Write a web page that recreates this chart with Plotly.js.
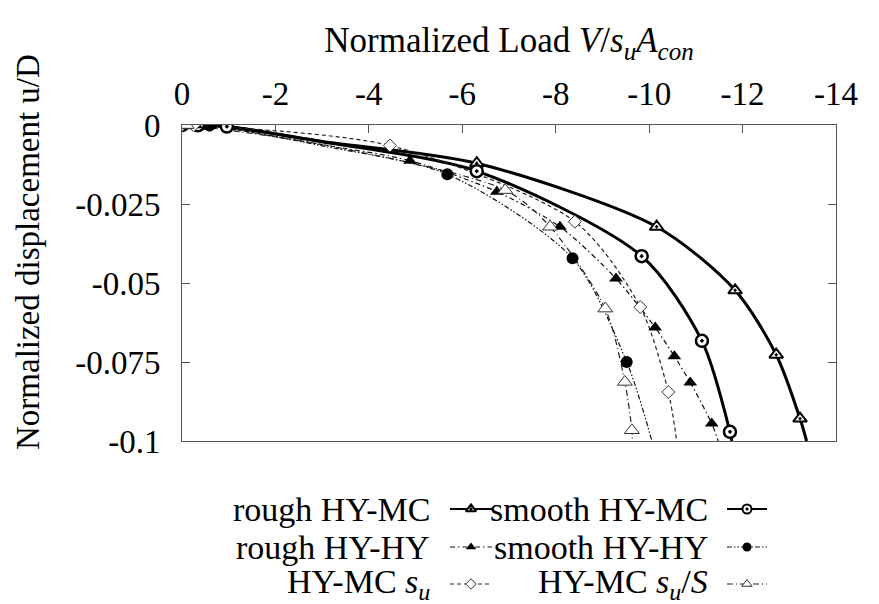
<!DOCTYPE html>
<html><head><meta charset="utf-8">
<script src="https://cdn.plot.ly/plotly-3.0.1.min.js"></script>
<style>
html,body{margin:0;padding:0;background:#fff}
#chart{width:879px;height:604px}
</style>
</head><body><div id="chart"></div>
<script>
var SERIF = 'Liberation Serif';

// ---- tick labels ----
var xTickVals = [0, -2, -4, -6, -8, -10, -12, -14];
var xTickText = ['0', '-2', '-4', '-6', '-8', '-10', '-12', '-14'];
var yTickVals = [0, -0.025, -0.05, -0.075, -0.1];
var yTickText = ['0', '-0.025', '-0.05', '-0.075', '-0.1'];

// subscript helper (explicit pixel size + baseline shift instead of <sub>)
function sub(t, px) {
  return '<span style="font-size:' + px + 'px;baseline-shift:-' + Math.round(px * 0.3) + 'px">' + t + '</span>';
}

// ---- series (x = normalized load, y = normalized displacement, mark = marker drawn) ----
var seriesNames = ['rough HY-MC', 'smooth HY-MC', 'rough HY-HY', 'smooth HY-HY',
  'HY-MC <i>s' + sub('u', 24) + '</i>', 'HY-MC <i>s' + sub('u', 24) + '</i>/<i>S</i>'];

var roughMC_x = [0, -0.15, -0.5, -0.96, -3.0, -6.31, -10.16, -11.84, -12.72, -13.23, -13.37];
var roughMC_y = [0, -0.00005, -0.0002, -0.0005, -0.0052, -0.0121, -0.0322, -0.0523, -0.0727, -0.0929, -0.1];
var roughMC_m = [1, 1, 1, 0, 0, 1, 1, 1, 1, 1, 0];

var smoothMC_x = [0, -0.34, -0.96, -3.0, -6.31, -9.84, -11.13, -11.73, -11.77];
var smoothMC_y = [0, -0.0001, -0.0005, -0.0053, -0.0146, -0.0415, -0.0683, -0.0971, -0.1];
var smoothMC_m = [1, 1, 1, 0, 1, 1, 1, 1, 0];

var roughHY_x = [0, -0.3, -0.6, -3.0, -4.88, -6.74, -8.09, -9.29, -10.13, -10.54, -10.88, -11.34, -11.48];
var roughHY_y = [0, -0.0001, -0.0003, -0.0062, -0.0113, -0.0211, -0.0322, -0.0486, -0.0641, -0.0732, -0.0815, -0.0945, -0.1];
var roughHY_m = [1, 1, 1, 0, 1, 1, 1, 1, 1, 1, 1, 1, 0];

var smoothHY_x = [0, -0.59, -3.0, -5.68, -8.36, -9.52, -10.06];
var smoothHY_y = [0, -0.0002, -0.0066, -0.0156, -0.0422, -0.0750, -0.1];
var smoothHY_m = [1, 1, 0, 1, 1, 1, 0];

var su_x = [0, -0.25, -4.45, -8.41, -9.81, -10.41, -10.59];
var su_y = [0, -0.0001, -0.0065, -0.0306, -0.0576, -0.0845, -0.1];
var su_m = [1, 1, 1, 1, 1, 1, 0];

var suS_x = [0, -0.1, -3.0, -6.92, -7.88, -9.06, -9.48, -9.63, -9.64];
var suS_y = [0, -0.00003, -0.0062, -0.0206, -0.0322, -0.0581, -0.0813, -0.0966, -0.1];
var suS_m = [1, 1, 0, 1, 1, 1, 1, 1, 0];

// ---- styles ----
var styles = [
  {line: {color: '#000', width: 3, dash: 'solid'}, sym: 'triangle-up-dot', fill: '#fff', lc: '#000', lw: 2, size: 12, lsize: 9},
  {line: {color: '#000', width: 3, dash: 'solid'}, sym: 'circle-dot', fill: '#fff', lc: '#000', lw: 2.5, size: 12, lsize: 9},
  {line: {color: '#111', width: 1.2, dash: '5px,3px,1.5px,3px'}, sym: 'triangle-up', fill: '#000', lc: '#000', lw: 0, size: 12, lsize: 9},
  {line: {color: '#111', width: 1.2, dash: '5px,2px,1.5px,2px,1.5px,2px'}, sym: 'circle', fill: '#000', lc: '#000', lw: 0, size: 12, lsize: 9},
  {line: {color: '#222', width: 1.2, dash: '4px,3px'}, sym: 'diamond', fill: '#fff', lc: '#333', lw: 1, size: 10, lsize: 8},
  {line: {color: '#222', width: 1.2, dash: '6px,3px,1px,3px'}, sym: 'triangle-up', fill: '#fff', lc: '#333', lw: 1, size: 13, lsize: 9}
];

var seriesData = [
  [roughMC_x, roughMC_y, roughMC_m],
  [smoothMC_x, smoothMC_y, smoothMC_m],
  [roughHY_x, roughHY_y, roughHY_m],
  [smoothHY_x, smoothHY_y, smoothHY_m],
  [su_x, su_y, su_m],
  [suS_x, suS_y, suS_m]
];

var traces = [];
seriesData.forEach(function (d, i) {
  traces.push({x: d[0], y: d[1], type: 'scatter', mode: 'lines', name: seriesNames[i],
    line: Object.assign({shape: 'spline', smoothing: 0.8}, styles[i].line),
    showlegend: false, hoverinfo: 'skip'});
});
seriesData.forEach(function (d, i) {
  var mx = d[0].filter(function (_, k) { return d[2][k]; });
  var my = d[1].filter(function (_, k) { return d[2][k]; });
  var s = styles[i];
  traces.push({x: mx, y: my, type: 'scatter', mode: 'markers', name: seriesNames[i],
    marker: {symbol: s.sym, size: s.size, color: s.fill, line: {color: s.lc, width: s.lw}},
    showlegend: false, hoverinfo: 'skip'});
});

// ---- manual legend (text, then sample), on a helper axis in pixel units ----
var legTextRight = [432, 710];
var legSample = [[450, 492], [727, 767]];
var legRowY = [509, 547, 584];
var annotations = [];
seriesNames.forEach(function (nm, i) {
  var col = i % 2, row = Math.floor(i / 2);
  var x0 = legSample[col][0], x1 = legSample[col][1];
  var xm = (x0 + x1) / 2, yr = legRowY[row];
  var s = styles[i];
  traces.push({x: [x0, x1], y: [yr, yr], xaxis: 'x2', yaxis: 'y2', type: 'scatter', mode: 'lines',
    line: {color: s.line.color, width: s.line.width === 3 ? 2 : 1, dash: s.line.dash},
    showlegend: false, hoverinfo: 'skip'});
  traces.push({x: [xm], y: [yr], xaxis: 'x2', yaxis: 'y2', type: 'scatter', mode: 'markers',
    marker: {symbol: s.sym, size: s.lsize, color: s.fill, line: {color: s.lc, width: s.lw ? Math.min(s.lw, 2) : 0}},
    showlegend: false, hoverinfo: 'skip'});
  annotations.push({xref: 'x2', yref: 'y2', x: legTextRight[col], y: yr, text: nm,
    xanchor: 'right', yanchor: 'middle', showarrow: false, font: {family: SERIF, size: 34, color: '#000'}});
});

annotations.push({xref: 'paper', yref: 'paper', x: 28 / 879, y: 1 - 252 / 604, textangle: -90,
  text: 'Normalized displacement u/D', showarrow: false, xanchor: 'center', yanchor: 'middle',
  font: {family: SERIF, size: 33, color: '#000'}});

var axisLine = '#555';
var layout = {
  width: 879, height: 604,
  margin: {l: 0, r: 0, t: 0, b: 0},
  paper_bgcolor: '#fff', plot_bgcolor: 'rgba(0,0,0,0)',
  font: {family: SERIF, size: 33, color: '#000'},
  showlegend: false,
  xaxis: {
    domain: [182 / 879, 836 / 879], range: [0, -14], side: 'top',
    showline: true, linecolor: axisLine, linewidth: 1, mirror: true,
    ticks: 'inside', ticklen: 8, tickcolor: axisLine, tickwidth: 1,
    tickmode: 'array', tickvals: xTickVals, ticktext: xTickText,
    tickfont: {family: SERIF, size: 33, color: '#000'},
    showgrid: false, zeroline: false, ticklabelstandoff: 6,
    title: {text: 'Normalized Load <i>V</i>/<i>s' + sub('u', 25) + 'A' + sub('con', 25) + '</i>',
      font: {family: SERIF, size: 35, color: '#000'}, standoff: 12}
  },
  yaxis: {
    domain: [1 - 441 / 604, 1 - 125 / 604], range: [-0.1, 0],
    showline: true, linecolor: axisLine, linewidth: 1, mirror: 'ticks',
    ticks: 'inside', ticklen: 8, tickcolor: axisLine, tickwidth: 1,
    tickmode: 'array', tickvals: yTickVals, ticktext: yTickText,
    tickfont: {family: SERIF, size: 33, color: '#000'},
    showgrid: false, zeroline: false, ticklabelstandoff: 14
  },
  xaxis2: {domain: [0, 1], range: [0, 879], anchor: 'y2', visible: false, fixedrange: true},
  yaxis2: {domain: [0, 0.2], range: [604, 604 - 0.2 * 604], anchor: 'x2', visible: false, fixedrange: true},
  annotations: annotations
};

Plotly.newPlot('chart', traces, layout, {staticPlot: true});
</script>
</body></html>
